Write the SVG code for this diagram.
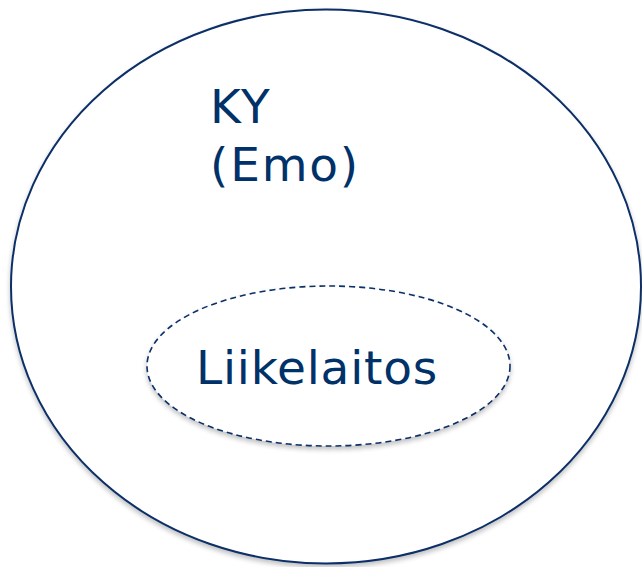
<svg xmlns="http://www.w3.org/2000/svg" width="642" height="567" viewBox="0 0 642 567">
<style>
.lbl{font-family:"DejaVu Sans","Verdana",sans-serif;font-size:47px;letter-spacing:1px;fill:#003169}
.wide{letter-spacing:1.8px}
.outer{fill:#ffffff;stroke:#0a2f66;stroke-width:2}
.inner{fill:#ffffff;stroke:#0a2f66;stroke-width:1.6;stroke-dasharray:6 4}
</style>
<defs>
<filter id="sh" x="-10%" y="-10%" width="120%" height="120%">
<feGaussianBlur in="SourceAlpha" stdDeviation="2.5"/>
<feOffset dx="0" dy="3" result="b"/>
<feComponentTransfer><feFuncA type="linear" slope="0.25"/></feComponentTransfer>
<feMerge><feMergeNode/><feMergeNode in="SourceGraphic"/></feMerge>
</filter>
</defs>
<rect width="642" height="567" fill="#ffffff"/>
<g id="ky">
<ellipse class="outer" cx="326" cy="286.5" rx="315" ry="277" filter="url(#sh)"/>
<text class="lbl wide" x="210" y="123">KY</text>
<text class="lbl wide" x="210" y="181">(Emo)</text>
</g>
<g id="liikelaitos">
<ellipse class="inner" cx="328.5" cy="366" rx="181.5" ry="80" filter="url(#sh)"/>
<text class="lbl" x="196" y="384" style="letter-spacing:0.8px">Liikelaitos</text>
</g>
<g id="connectors"/>
</svg>
